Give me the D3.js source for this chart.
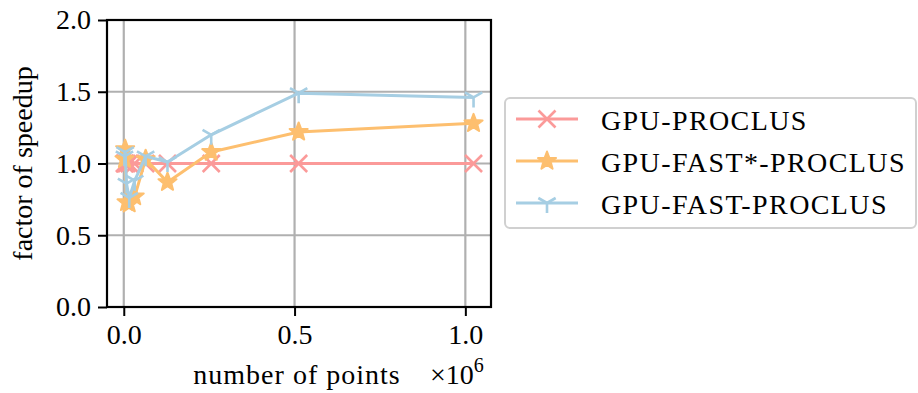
<!DOCTYPE html>
<html>
<head>
<meta charset="utf-8">
<script src="https://cdn.jsdelivr.net/npm/d3@7"></script>
<style>
  body { margin: 0; background: #fff; }
  svg text { font-family: "Liberation Serif", "DejaVu Serif", serif; fill: #000; }
</style>
</head>
<body>
<div id="chart"></div>
<script>
// number of points
const points = [2000, 4000, 8000, 16000, 32000, 64000, 128000, 256000, 512000, 1024000];
// factor of speedup per variant
const gpuProclus     = [1.0, 1.0, 1.0, 1.0, 1.0, 1.0, 1.0, 1.0, 1.0, 1.0];
const gpuFastStar    = [1.03, 1.10, 0.73, 0.72, 0.77, 1.03, 0.87, 1.08, 1.22, 1.28];
const gpuFast        = [1.05, 1.08, 0.86, 0.76, 0.88, 1.05, 1.01, 1.20, 1.49, 1.46];
const seriesNames    = ["GPU-PROCLUS", "GPU-FAST*-PROCLUS", "GPU-FAST-PROCLUS"];
const xTicks = [0, 500000, 1000000];
const yTicks = [0, 0.5, 1.0, 1.5, 2.0];

const width = 918, height = 393;
const margin = {top: 20, right: 427, bottom: 86, left: 107};
const serif = "'Liberation Serif', 'DejaVu Serif', serif";

const svg = d3.select("#chart").append("svg")
    .attr("width", width)
    .attr("height", height);

// matplotlib style 5% padding on x
const xMin = d3.min(points), xMax = d3.max(points);
const pad = (xMax - xMin) * 0.05;
const x = d3.scaleLinear()
  .domain([xMin - pad, xMax + pad])
  .range([margin.left, width - margin.right]);

const y = d3.scaleLinear()
  .domain([0, 2])
  .range([height - margin.bottom, margin.top]);

const colors = ["#fb9a99", "#fdbf6f", "#a6cee3"];

// grid
svg.append("g")
    .attr("stroke", "#b0b0b0")
    .attr("stroke-width", 2.2)
  .selectAll("line")
  .data(xTicks)
  .join("line")
    .attr("x1", d => x(d)).attr("x2", d => x(d))
    .attr("y1", y(0)).attr("y2", y(2));

svg.append("g")
    .attr("stroke", "#b0b0b0")
    .attr("stroke-width", 2.2)
  .selectAll("line")
  .data(yTicks)
  .join("line")
    .attr("y1", d => y(d)).attr("y2", d => y(d))
    .attr("x1", x.range()[0]).attr("x2", x.range()[1]);

// marker shapes
function starPath(r) {
  const pts = [];
  for (let i = 0; i < 10; i++) {
    const rr = i % 2 === 0 ? r : r * 0.42;
    const a = -Math.PI / 2 + i * Math.PI / 5;
    pts.push([rr * Math.cos(a), rr * Math.sin(a)]);
  }
  return "M" + pts.map(p => p.join(",")).join("L") + "Z";
}
function xPath(r) {
  return `M${-r},${-r}L${r},${r}M${-r},${r}L${r},${-r}`;
}
function triDownPath(r) {
  const c = r * 0.866, s = r * 0.5;
  return `M0,0L0,${r}M0,0L${c},${-s}M0,0L${-c},${-s}`;
}

const series = [
  {name: seriesNames[0], values: gpuProclus, color: colors[0], marker: "x"},
  {name: seriesNames[1], values: gpuFastStar, color: colors[1], marker: "star"},
  {name: seriesNames[2], values: gpuFast, color: colors[2], marker: "tri"}
];

function drawMarker(g, kind, color) {
  if (kind === "star") {
    g.append("path").attr("d", starPath(9.5))
      .attr("fill", color).attr("stroke", color)
      .attr("stroke-width", 2).attr("stroke-linejoin", "round");
  } else if (kind === "x") {
    g.append("path").attr("d", xPath(8.5))
      .attr("fill", "none").attr("stroke", color).attr("stroke-width", 2.6);
  } else {
    g.append("path").attr("d", triDownPath(10))
      .attr("fill", "none").attr("stroke", color).attr("stroke-width", 2.6);
  }
}

const line = d3.line()
  .x(d => x(d[0]))
  .y(d => y(d[1]));

series.forEach(s => {
  const data = points.map((p, i) => [p, s.values[i]]);
  const g = svg.append("g");
  g.append("path")
    .datum(data)
    .attr("d", line)
    .attr("fill", "none")
    .attr("stroke", s.color)
    .attr("stroke-width", 3)
    .attr("stroke-linejoin", "round");
  data.forEach(d => {
    const m = g.append("g").attr("transform", `translate(${x(d[0])},${y(d[1])})`);
    drawMarker(m, s.marker, s.color);
  });
});

// axes
const xAxis = svg.append("g")
    .attr("transform", `translate(0,${y(0)})`)
    .call(d3.axisBottom(x).tickValues(xTicks).tickSize(9).tickPadding(8)
      .tickFormat(d => (d / 1e6).toFixed(1)));
const yAxis = svg.append("g")
    .attr("transform", `translate(${margin.left},0)`)
    .call(d3.axisLeft(y).tickValues(yTicks).tickSize(9).tickPadding(7)
      .tickFormat(d => d.toFixed(1)));

[xAxis, yAxis].forEach(a => {
  a.select(".domain").remove();
  a.selectAll(".tick line").attr("stroke", "#000").attr("stroke-width", 2);
  a.selectAll(".tick text").style("font-size", "28px")
    .style("font-family", serif);
});

// frame
svg.append("rect")
    .attr("x", x.range()[0]).attr("y", y(2))
    .attr("width", x.range()[1] - x.range()[0])
    .attr("height", y(0) - y(2))
    .attr("fill", "none").attr("stroke", "#000").attr("stroke-width", 2.2);

// axis labels
svg.append("text")
    .attr("x", 297).attr("y", 384)
    .attr("text-anchor", "middle")
    .style("font-size", "28px")
    .style("font-family", serif)
    .style("letter-spacing", "1px")
    .text("number of points");

const mult = svg.append("text")
    .attr("x", 430).attr("y", 384)
    .style("font-size", "28px")
    .style("font-family", serif);
mult.append("tspan").text("×10");
mult.append("tspan").attr("dy", -12).style("font-size", "20px").text("6");

svg.append("text")
    .attr("transform", `translate(32,${(y(0) + y(2)) / 2}) rotate(-90)`)
    .attr("text-anchor", "middle")
    .style("font-size", "28px")
    .style("font-family", serif)
    .text("factor of speedup");

// legend
const legend = svg.append("g");
legend.append("rect")
    .attr("x", 505).attr("y", 98)
    .attr("width", 411).attr("height", 130)
    .attr("rx", 5)
    .attr("fill", "#fff").attr("stroke", "#d0d0d0").attr("stroke-width", 2);

series.forEach((s, i) => {
  const cy = 119 + i * 42;
  legend.append("line")
    .attr("x1", 516).attr("x2", 578)
    .attr("y1", cy).attr("y2", cy)
    .attr("stroke", s.color).attr("stroke-width", 3);
  const m = legend.append("g").attr("transform", `translate(547,${cy})`);
  drawMarker(m, s.marker, s.color);
  legend.append("text")
    .attr("x", 601).attr("y", cy + 11)
    .style("font-size", "28px")
    .style("font-family", serif)
    .style("letter-spacing", "1.4px")
    .text(s.name);
});
</script>
</body>
</html>
